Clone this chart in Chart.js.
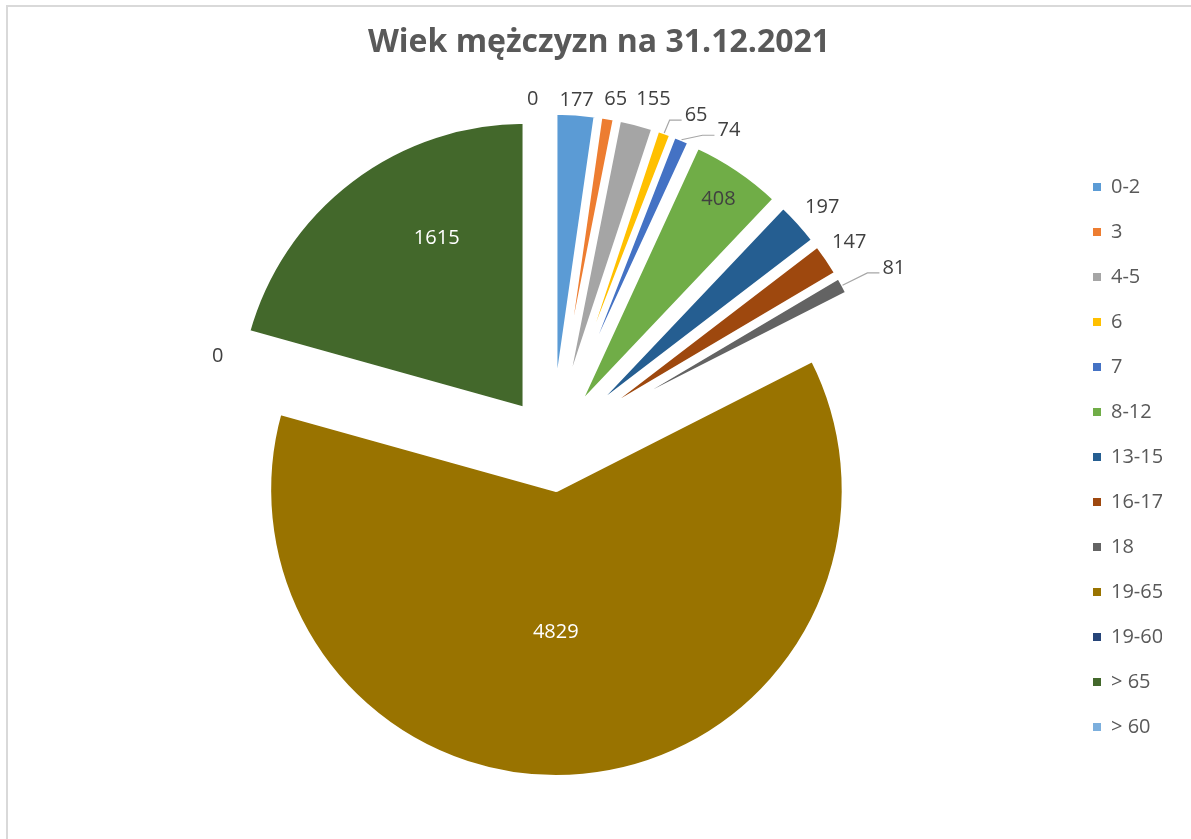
<!DOCTYPE html>
<html>
<head>
<meta charset="utf-8">
<script src="https://cdn.jsdelivr.net/npm/chart.js@4"></script>
<style>
  html, body { margin: 0; padding: 0; background: #ffffff; }
  #wrap { width: 1191px; height: 839px; position: relative; }
</style>
</head>
<body>
<div id="wrap"><canvas id="c"></canvas></div>
<script>
// ---- data ----
const chartTitle = 'Wiek mężczyzn na 31.12.2021';
const categories = ['0-2', '3', '4-5', '6', '7', '8-12', '13-15', '16-17', '18', '19-65', '19-60', '> 65', '> 60'];
const values = [177, 65, 155, 65, 74, 408, 197, 147, 81, 4829, 0, 1615, 0];
const colors = ['#5B9BD5', '#ED7D31', '#A5A5A5', '#FFC000', '#4472C4', '#70AD47', '#255E91', '#9E480E', '#636363', '#997300', '#264478', '#43682B', '#7CAFDD'];

// ---- style / geometry settings ----
const pieRadius = 287.5;   // px, outer radius of every slice
const explode = 45;        // px, how far each slice is pulled out

// label layout: angle shift (deg) from slice bisector, distance from pie centre, leader line, text colour
const labelLayout = [
  [0, 346, false, '#404040'],
  [0.8, 351, false, '#404040'],
  [1.65, 360, false, '#404040'],
  [3.8, 360, true, '#404040'],
  [6.35, 361, true, '#404040'],
  [0, 297, false, '#404040'],
  [0.6, 360, false, '#404040'],
  [-0.3, 360, false, '#404040'],
  [1.4, 385, true, '#404040'],
  [4.5, 187, false, '#ffffff'],
  [-0.7, 346, false, '#404040'],
  [8.1, 237, false, '#ffffff'],
  [-3.2, 346, false, '#404040']
];

// Excel-style explosion: every slice is moved out by its full offset and keeps the common radius.
const ArcEl = Chart.ArcElement || (Chart.elements && Chart.elements.ArcElement);
ArcEl.prototype.draw = function (ctx) {
  const o = this.options;
  if (!this.circumference || this.outerRadius <= 0) return;
  const mid = (this.startAngle + this.endAngle) / 2;
  const t = o.offset || 0;
  ctx.save();
  ctx.translate(Math.cos(mid) * t, Math.sin(mid) * t);
  ctx.beginPath();
  ctx.moveTo(this.x, this.y);
  ctx.arc(this.x, this.y, this.outerRadius, this.startAngle, this.endAngle);
  ctx.closePath();
  ctx.fillStyle = o.backgroundColor;
  ctx.fill();
  if (o.borderWidth) {
    ctx.lineWidth = o.borderWidth;
    ctx.strokeStyle = o.borderColor;
    ctx.lineJoin = 'bevel';
    ctx.stroke();
  }
  ctx.restore();
};

const frameBorder = {
  id: 'frameBorder',
  beforeDraw(chart) {
    const ctx = chart.ctx;
    ctx.save();
    ctx.strokeStyle = '#D9D9D9';
    ctx.lineWidth = 2;
    ctx.strokeRect(7, 6, 1400, 1000);
    ctx.restore();
  }
};

const sliceLabels = {
  id: 'sliceLabels',
  afterDatasetsDraw(chart) {
    const ctx = chart.ctx;
    const meta = chart.getDatasetMeta(0);
    ctx.save();
    ctx.font = '20px "Open Sans"';
    ctx.textAlign = 'center';
    ctx.textBaseline = 'middle';
    meta.data.forEach((arc, i) => {
      const p = arc.getProps(['x', 'y', 'startAngle', 'endAngle', 'outerRadius'], true);
      const off = arc.options.offset || 0;
      const mid = (p.startAngle + p.endAngle) / 2;
      const lay = labelLayout[i];
      const a = mid + lay[0] * Math.PI / 180;
      const lx = p.x + lay[1] * Math.cos(a);
      const ly = p.y + lay[1] * Math.sin(a);
      const txt = String(values[i]);
      if (lay[2]) {
        const w = ctx.measureText(txt).width;
        const sr = p.outerRadius + off - 1;
        const sx = p.x + sr * Math.cos(mid);
        const sy = p.y + sr * Math.sin(mid);
        const ex = lx - w / 2 - 3;
        const ey = ly + 5;
        ctx.beginPath();
        ctx.strokeStyle = '#A6A6A6';
        ctx.lineWidth = 1.2;
        ctx.moveTo(sx, sy);
        ctx.lineTo(ex - 12, ey);
        ctx.lineTo(ex, ey);
        ctx.stroke();
      }
      ctx.fillStyle = lay[3];
      ctx.fillText(txt, lx, ly);
    });
    ctx.restore();
  }
};

const baseGen = (Chart.overrides.pie && Chart.overrides.pie.plugins && Chart.overrides.pie.plugins.legend && Chart.overrides.pie.plugins.legend.labels.generateLabels)
  || Chart.overrides.doughnut.plugins.legend.labels.generateLabels;

new Chart(document.getElementById('c'), {
  type: 'pie',
  data: {
    labels: categories,
    datasets: [{
      data: values,
      backgroundColor: colors,
      borderColor: '#ffffff',
      borderWidth: 4.5,
      offset: explode,
      hoverOffset: 0
    }]
  },
  options: {
    responsive: true,
    maintainAspectRatio: false,
    animation: false,
    radius: pieRadius,
    layout: { padding: { left: 36, right: 29, top: 0, bottom: 0 } },
    plugins: {
      tooltip: { enabled: false },
      title: {
        display: true,
        text: chartTitle,
        color: '#595959',
        font: { family: 'Open Sans', size: 32, weight: 'bold' },
        padding: { top: 24, bottom: -11.5 }
      },
      legend: {
        display: true,
        position: 'right',
        align: 'center',
        maxWidth: 94,
        title: { display: true, text: '', font: { size: 20 }, padding: { top: 51, bottom: 0 } },
        labels: {
          color: '#595959',
          font: { family: 'Open Sans', size: 20 },
          boxWidth: 8,
          boxHeight: 8,
          padding: 25,
          generateLabels(chart) {
            const items = baseGen(chart);
            items.forEach(it => { it.lineWidth = 0; it.strokeStyle = 'rgba(0,0,0,0)'; });
            return items;
          }
        }
      }
    }
  },
  plugins: [frameBorder, sliceLabels]
});
</script>
</body>
</html>
